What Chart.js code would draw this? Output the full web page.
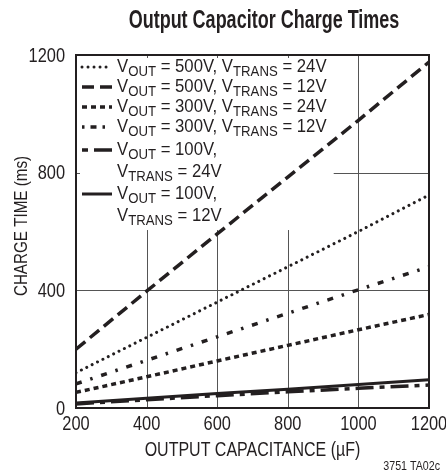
<!DOCTYPE html>
<html>
<head>
<meta charset="utf-8">
<script src="https://cdn.jsdelivr.net/npm/chart.js@4.4.1/dist/chart.umd.min.js"></script>
<style>
  html, body { margin: 0; padding: 0; background: #fff; }
  #wrap { width: 446px; height: 473px; position: relative; }
</style>
</head>
<body>
<div id="wrap"><canvas id="chargeChart" width="446" height="473"></canvas></div>
<script>
// charge time (ms) against output capacitance (uF)
const capacitance = [200, 400, 600, 800, 1000, 1200];
const t500v24 = [120, 240, 360, 480, 600, 724];
const t500v12 = [200, 397, 592, 785, 978, 1176];
const t300v24 = [53, 106, 160, 213, 266, 318];
const t300v12 = [82, 162, 242, 322, 402, 480];
const t100v24 = [14, 28, 42, 55, 67, 78];
const t100v12 = [17, 33, 49, 64, 80, 96];

const xTicks = [200, 400, 600, 800, 1000, 1200];
const yTicks = [0, 400, 800, 1200];

// no condensed face installed, so Liberation Sans is squeezed horizontally
const FONT = '"Liberation Sans", Arial, sans-serif';
const SQUEEZE = 0.82;
const INK = '#231f20';

// legend rows: text pieces, [text, isSubscript]
const legendRows = [
  { style: 'dot',  parts: [['V'], ['OUT', 1], [' = 500V, V'], ['TRANS', 1], [' = 24V']] },
  { style: 'long', parts: [['V'], ['OUT', 1], [' = 500V, V'], ['TRANS', 1], [' = 12V']] },
  { style: 'short', parts: [['V'], ['OUT', 1], [' = 300V, V'], ['TRANS', 1], [' = 24V']] },
  { style: 'dashdot', parts: [['V'], ['OUT', 1], [' = 300V, V'], ['TRANS', 1], [' = 12V']] },
  { style: 'longshort', parts: [['V'], ['OUT', 1], [' = 100V,']] },
  { style: null, parts: [['V'], ['TRANS', 1], [' = 24V']] },
  { style: 'solid', parts: [['V'], ['OUT', 1], [' = 100V,']] },
  { style: null, parts: [['V'], ['TRANS', 1], [' = 12V']] }
];
const legendRowY = [66, 86, 106, 126, 149, 171, 193, 215];

const lineStyles = {
  dot:       { dash: [0.01, 6], width: 3, cap: 'round' },
  long:      { dash: [12, 6], width: 3.5, cap: 'butt' },
  short:     { dash: [5, 4], width: 3.5, cap: 'butt' },
  dashdot:   { dash: [6, 9, 2.5, 9], width: 3.5, cap: 'butt' },
  longshort: { dash: [18, 6, 5, 6], width: 3.5, cap: 'butt' },
  solid:     { dash: [], width: 3, cap: 'butt' }
};

function series(values, style) {
  const s = lineStyles[style];
  return {
    data: capacitance.map((c, i) => ({ x: c, y: values[i] })),
    borderColor: INK,
    borderWidth: s.width,
    borderDash: s.dash,
    borderCapStyle: s.cap,
    pointRadius: 0,
    tension: 0,
    fill: false
  };
}

// text squeezed to a condensed look; align is relative to (x, y)
function narrowText(ctx, text, x, y, font, align, squeeze) {
  ctx.save();
  ctx.font = font;
  ctx.textAlign = align;
  ctx.translate(x, y);
  ctx.scale(squeeze || SQUEEZE, 1);
  ctx.fillText(text, 0, 0);
  ctx.restore();
}

function drawRich(ctx, x, y, parts) {
  ctx.save();
  ctx.translate(x, y);
  ctx.scale(0.88, 1);
  ctx.textBaseline = 'alphabetic';
  ctx.textAlign = 'left';
  let cx = 0;
  parts.forEach(([t, sub]) => {
    ctx.font = sub ? '15px ' + FONT : '19px ' + FONT;
    ctx.fillText(t, cx, sub ? 4 : 0);
    cx += ctx.measureText(t).width;
  });
  ctx.restore();
}

const framePlugin = {
  id: 'frame',
  beforeDatasetsDraw(chart) {
    const { ctx, chartArea: a, scales: { x, y } } = chart;
    ctx.save();
    ctx.strokeStyle = '#555';
    ctx.lineWidth = 1;
    // vertical grid
    xTicks.slice(1, -1).forEach(v => {
      const px = Math.round(x.getPixelForValue(v)) + 0.5;
      ctx.beginPath();
      ctx.moveTo(px, a.top);
      ctx.lineTo(px, a.bottom);
      ctx.stroke();
    });
    // horizontal grid
    yTicks.slice(1, -1).forEach(v => {
      const py = Math.round(y.getPixelForValue(v)) + 0.5;
      ctx.beginPath();
      ctx.moveTo(a.left, py);
      ctx.lineTo(a.right, py);
      ctx.stroke();
    });
    // legend box
    const boxR = x.getPixelForValue(930);
    const boxB = y.getPixelForValue(605);
    ctx.fillStyle = '#fff';
    ctx.fillRect(a.left + 4, a.top + 3, boxR - a.left - 4, boxB - a.top - 3);

    ctx.fillStyle = INK;
    legendRows.forEach((row, i) => {
      const cy = legendRowY[i];
      if (row.style) {
        const s = lineStyles[row.style];
        ctx.save();
        ctx.strokeStyle = INK;
        ctx.lineWidth = s.width;
        ctx.lineCap = s.cap;
        ctx.setLineDash(row.style === 'longshort' ? [6, 6, 18, 0] :
                        row.style === 'dashdot' ? [2.5, 6, 6, 6, 2.5, 20] : s.dash);
        ctx.beginPath();
        ctx.moveTo(a.left + 6, cy + 1);
        ctx.lineTo(a.left + 36, cy + 1);
        ctx.stroke();
        ctx.restore();
      }
      drawRich(ctx, a.left + 41, cy + 6, row.parts);
    });
    ctx.restore();
  },
  afterDatasetsDraw(chart) {
    const { ctx, chartArea: a } = chart;
    ctx.save();
    ctx.strokeStyle = INK;
    ctx.lineWidth = 2;
    ctx.strokeRect(a.left, a.top, a.right - a.left, a.bottom - a.top);
    ctx.restore();
  },
  afterDraw(chart) {
    const { ctx, chartArea: a, scales: { x, y } } = chart;
    ctx.save();
    ctx.fillStyle = INK;
    ctx.textBaseline = 'middle';
    const tickFont = '20px ' + FONT;
    xTicks.forEach(v => narrowText(ctx, String(v), x.getPixelForValue(v), a.bottom + 16, tickFont, 'center'));
    yTicks.forEach(v => narrowText(ctx, String(v), a.left - 11, y.getPixelForValue(v) + 1, tickFont, 'right'));

    narrowText(ctx, 'Output Capacitor Charge Times', 264, 21, 'bold 25px ' + FONT, 'center', 0.72);
    narrowText(ctx, 'OUTPUT CAPACITANCE (\u00b5F)', (a.left + a.right) / 2, 450, '20px ' + FONT, 'center', 0.8);
    ctx.save();
    ctx.translate(22, 226);
    ctx.rotate(-Math.PI / 2);
    narrowText(ctx, 'CHARGE TIME (ms)', 0, 0, '19px ' + FONT, 'center', 0.8);
    ctx.restore();
    narrowText(ctx, '3751 TA02c', 440, 466, '13px ' + FONT, 'right', 0.82);
    ctx.restore();
  }
};

new Chart(document.getElementById('chargeChart'), {
  type: 'line',
  data: {
    datasets: [
      series(t500v24, 'dot'),
      series(t500v12, 'long'),
      series(t300v24, 'short'),
      series(t300v12, 'dashdot'),
      series(t100v24, 'longshort'),
      series(t100v12, 'solid')
    ]
  },
  options: {
    responsive: false,
    animation: false,
    layout: { padding: { top: 55, right: 17, left: 0, bottom: 0 } },
    plugins: { legend: { display: false }, title: { display: false }, tooltip: { enabled: false } },
    scales: {
      x: {
        type: 'linear',
        min: 200,
        max: 1200,
        grid: { display: false, drawTicks: false },
        border: { display: false },
        ticks: { display: false, stepSize: 200 },
        afterFit(s) { s.height = 65; }
      },
      y: {
        min: 0,
        max: 1200,
        grid: { display: false, drawTicks: false },
        border: { display: false },
        ticks: { display: false, stepSize: 400 },
        afterFit(s) { s.width = 76; }
      }
    }
  },
  plugins: [framePlugin]
});
</script>
</body>
</html>
